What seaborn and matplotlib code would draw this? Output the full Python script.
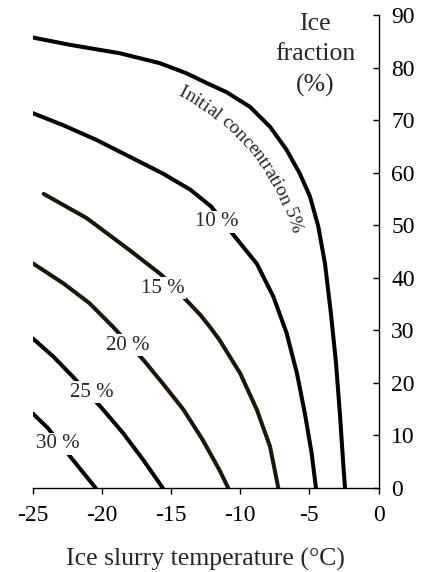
import numpy as np
import pandas as pd
import matplotlib
matplotlib.use("Agg")
import matplotlib.pyplot as plt
import matplotlib.transforms as mtransforms
import seaborn as sns

# --- Data (temperature °C, ice fraction %) ---
T_5 = [-25.0, -22.3, -18.7, -15.8, -13.9, -12.4, -11.0, -9.3, -7.85, -6.65,
       -5.7, -4.96, -4.36, -3.88, -3.45, -3.08, -2.8, -2.56, -2.43]
F_5 = [85.8, 84.4, 82.8, 80.9, 79.0, 77.1, 75.4, 72.6, 68.8, 64.4,
       59.9, 55.5, 49.8, 42.8, 33.3, 23.8, 14.2, 4.7, 0.0]

T_10 = [-25.0, -22.8, -20.4, -18.0, -15.6, -13.6, -12.1, -10.4, -8.8, -7.6,
        -6.65, -5.9, -5.33, -4.84, -4.53]
F_10 = [71.4, 69.1, 66.3, 63.1, 59.9, 56.8, 53.6, 47.9, 42.7, 36.4,
        29.5, 21.8, 14.2, 6.6, 0.0]

T_15 = [-24.2, -21.1, -18.0, -15.7, -13.8, -12.9, -12.2, -11.5, -10.0, -8.8,
        -7.85, -7.25]
F_15 = [56.0, 51.4, 45.3, 40.6, 35.5, 33.0, 30.7, 28.2, 21.8, 14.9,
        7.9, 0.0]

T_20 = [-25.0, -22.8, -20.9, -19.2, -17.0, -15.6, -14.1, -12.7, -11.5, -10.87]
F_20 = [42.8, 39.0, 35.2, 30.7, 24.4, 19.9, 14.9, 9.1, 3.4, 0.0]

T_25 = [-25.0, -23.5, -22.1, -20.1, -18.45, -17.0, -15.6]
F_25 = [28.5, 25.0, 21.2, 15.5, 10.4, 5.3, 0.0]

T_30 = [-25.0, -23.9, -22.2, -20.45]
F_30 = [14.2, 11.4, 5.7, 0.0]

CURVES = {
    "5%": (T_5, F_5, "black"),
    "10%": (T_10, F_10, "black"),
    "15%": (T_15, F_15, "#1c160a"),
    "20%": (T_20, F_20, "#1c160a"),
    "25%": (T_25, F_25, "black"),
    "30%": (T_30, F_30, "black"),
}

# label text, x, y
LABELS = [
    ("10 %", -11.7, 50.7),
    ("15 %", -15.6, 38.0),
    ("20 %", -18.1, 27.2),
    ("25 %", -20.7, 18.2),
    ("30 %", -23.2, 8.4),
]
ARC_LABEL = "Initial concentration 5%"

sns.set_style("ticks")
plt.rcParams["font.family"] = ["Liberation Serif", "DejaVu Serif"]
plt.rcParams["axes.unicode_minus"] = False

fig = plt.figure(figsize=(4.24, 5.72), dpi=100)
ax = fig.add_axes([0.077, 0.147, 0.816, 0.826])

for name, (t, f, c) in CURVES.items():
    df = pd.DataFrame({"T": t, "F": f})
    sns.lineplot(data=df, x="T", y="F", ax=ax, color=c, linewidth=2.9,
                 sort=False, estimator=None, solid_joinstyle="round")

for txt, x, y in LABELS:
    ax.text(x, y, txt, fontsize=15, ha="center", va="center",
            bbox=dict(facecolor="white", edgecolor="none", pad=1.0))

ax.text(-4.6, 82.5, "Ice\nfraction\n(%)", fontsize=18.5, ha="center",
        va="center", linespacing=1.5)

ax.set_xlim(-25, 0)
ax.set_ylim(0, 90)
ax.set_xticks(np.arange(-25, 1, 5))
ax.set_yticks(np.arange(0, 91, 10))
ax.yaxis.tick_right()
ax.spines["left"].set_visible(False)
ax.spines["top"].set_visible(False)
ax.spines["right"].set_visible(True)
for s in ["right", "bottom"]:
    ax.spines[s].set_color("black")
    ax.spines[s].set_linewidth(1.0)

ax.tick_params(axis="x", direction="out", length=4, width=1, labelsize=17,
               pad=8, colors="black")
ax.tick_params(axis="y", direction="in", length=4, width=1, labelsize=17,
               pad=9, colors="black")
ax.set_xlabel("Ice slurry temperature (°C)", fontsize=18.5, labelpad=16)
ax.set_ylabel("")

# curved label following the 5 % curve (arc centred at about -21.4 °C, 37.7 %)
renderer = fig.canvas.get_renderer()
fs = 14
widths = []
for i in range(len(ARC_LABEL) + 1):
    s = ARC_LABEL[:i].replace(" ", "\u00a0")
    if not s:
        widths.append(0.0)
        continue
    tmp = fig.text(0, 0, s, fontsize=fs)
    widths.append(tmp.get_window_extent(renderer).width)
    tmp.remove()
total = widths[-1]
cx, cy = ax.transData.transform((-21.4, 37.7))
radius = 221.0
mid = np.deg2rad(39.5)
ident = mtransforms.IdentityTransform()
for i, ch in enumerate(ARC_LABEL):
    s = 0.5 * (widths[i] + widths[i + 1])
    ang = mid + (total / 2 - s) / radius
    px = cx + radius * np.cos(ang)
    py = cy + radius * np.sin(ang)
    fig.text(px, py, ch, fontsize=fs, transform=ident, ha="center",
             va="center", rotation=np.rad2deg(ang) - 90,
             rotation_mode="anchor")

fig.savefig("out.png", dpi=100)
plt.close(fig)
